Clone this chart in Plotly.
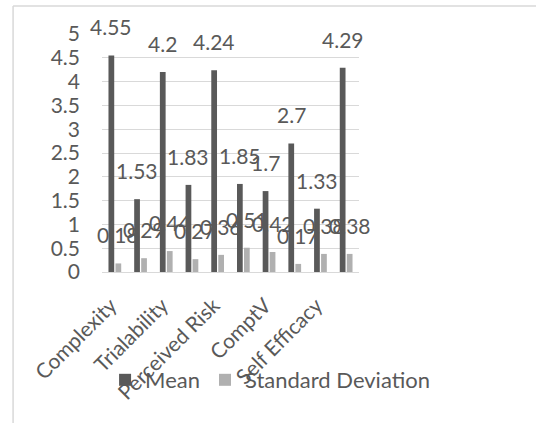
import plotly.graph_objects as go

categories = ["Complexity", "Relative Advantage", "Trialability", "Observability",
              "Perceived Risk", "Image", "ComptV", "ComptF", "Self Efficacy", "Intention"]
shown_ticks = ["Complexity", "Trialability", "Perceived Risk", "ComptV", "Self Efficacy"]
mean_vals = [4.55, 1.53, 4.2, 1.83, 4.24, 1.85, 1.7, 2.7, 1.33, 4.29]
sd_vals = [0.18, 0.29, 0.44, 0.27, 0.36, 0.51, 0.42, 0.17, 0.38, 0.38]
y_ticks = [0, 0.5, 1, 1.5, 2, 2.5, 3, 3.5, 4, 4.5, 5]

FONT = "Lato"
TXT = "#595959"
MEAN_C = "#595959"
SD_C = "#b0b0b0"
GRID = "#d9d9d9"
FS = 21

fig = go.Figure()
fig.add_trace(go.Bar(name="Mean", x=categories, y=mean_vals, marker_color=MEAN_C,
                     marker_line_width=0))
fig.add_trace(go.Bar(name="Standard Deviation", x=categories, y=sd_vals, marker_color=SD_C,
                     marker_line_width=0))

annotations = []
for c, v in zip(categories, mean_vals):
    annotations.append(dict(x=c, y=v, text=f"{v:g}", showarrow=False, xref="x", yref="y",
                            yanchor="bottom", xanchor="center", xshift=-3.5, yshift=14,
                            font=dict(family=FONT, size=FS, color=TXT)))
for c, v in zip(categories, sd_vals):
    annotations.append(dict(x=c, y=v, text=f"{v:g}", showarrow=False, xref="x", yref="y",
                            yanchor="bottom", xanchor="center", xshift=3.5, yshift=14,
                            font=dict(family=FONT, size=FS, color=TXT)))

fig.update_layout(
    width=536, height=423,
    margin=dict(l=102, r=177, t=34, b=151, pad=0, autoexpand=False),
    paper_bgcolor="white", plot_bgcolor="white",
    barmode="group", bargap=0.455, bargroupgap=0.18,
    font=dict(family=FONT, size=FS, color=TXT),
    annotations=annotations,
    legend=dict(orientation="h", x=1.296, xanchor="right", y=-0.4538, yanchor="middle",
                font=dict(family=FONT, size=22, color=TXT),
                bgcolor="rgba(0,0,0,0)", itemclick=False, tracegroupgap=0),
    shapes=[
        dict(type="line", xref="paper", yref="paper", x0=-0.346, x1=-0.346, y0=-1, y1=1.118,
             line=dict(color=GRID, width=1.5)),
        dict(type="line", xref="paper", yref="paper", x0=-0.346, x1=2, y0=1.118, y1=1.118,
             line=dict(color=GRID, width=1.5)),
    ],
)
fig.update_xaxes(type="category", range=[-0.5, len(categories) - 0.5],
                 tickvals=shown_ticks, ticktext=shown_ticks, tickangle=-45,
                 showline=True, linecolor=GRID, linewidth=1, showgrid=False, ticks="",
                 automargin=False, ticklabelshift=-4,
                 tickfont=dict(family=FONT, size=FS, color=TXT), ticklabelstandoff=12)
fig.update_yaxes(range=[0, 5], tickvals=y_ticks, showgrid=True, gridcolor=GRID, gridwidth=1,
                 zeroline=False, showline=False, ticks="", automargin=False,
                 tickfont=dict(family=FONT, size=FS, color=TXT), ticklabelstandoff=21)

fig.write_html("out.html", config={"displayModeBar": False},
               post_script="document.body.style.margin='0';document.body.style.overflow='hidden';")
